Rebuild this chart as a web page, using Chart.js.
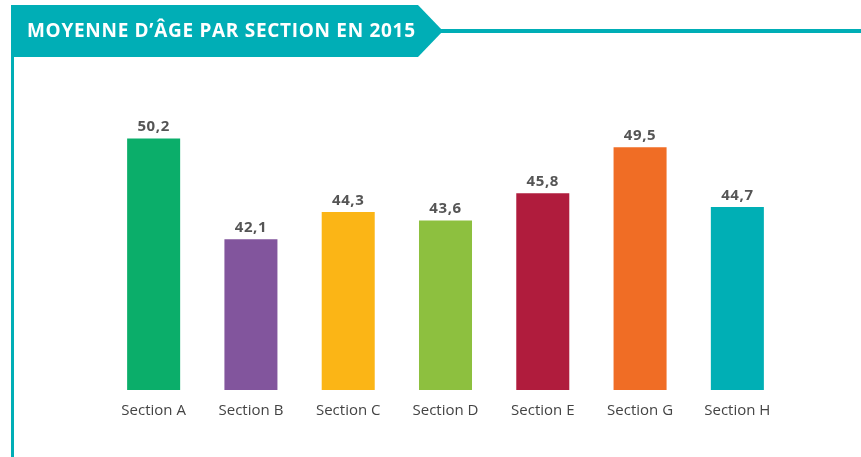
<!DOCTYPE html>
<html>
<head>
<meta charset="utf-8">
<script src="https://cdn.jsdelivr.net/npm/chart.js@4"></script>
<style>
  html, body { margin: 0; padding: 0; background: #fff; }
  #wrap { width: 861px; height: 457px; position: relative; }
</style>
</head>
<body>
<div id="wrap"><canvas id="myChart"></canvas></div>
<script>
var titleText = 'MOYENNE D’ÂGE PAR SECTION EN 2015';
var sections = ['Section A', 'Section B', 'Section C', 'Section D', 'Section E', 'Section G', 'Section H'];
var ages = [50.2, 42.1, 44.3, 43.6, 45.8, 49.5, 44.7];
var barColors = ['#0bae6a', '#82559d', '#fbb516', '#8dc03f', '#b01c3d', '#f06d25', '#00afb5'];

var teal = '#00aeb6';

// banner + frame lines
var bannerPlugin = {
    id: 'banner',
    beforeDraw: function (chart) {
        var c = chart.ctx;
        c.save();
        c.fillStyle = teal;
        // left vertical line
        c.fillRect(11, 50, 3, 407);
        // horizontal line to the right
        c.fillRect(430, 29, 431, 4);
        // arrow banner
        c.beginPath();
        c.moveTo(11, 5);
        c.lineTo(418, 5);
        c.lineTo(443, 31);
        c.lineTo(418, 57);
        c.lineTo(11, 57);
        c.closePath();
        c.fill();
        c.fillStyle = '#ffffff';
        c.font = 'bold 19px "Open Sans"';
        c.letterSpacing = '0.7px';
        c.textBaseline = 'middle';
        c.fillText(titleText, 27, 32);
        c.restore();
    }
};

// value labels above the bars
var valuePlugin = {
    id: 'values',
    afterDatasetsDraw: function (chart) {
        var c = chart.ctx;
        var meta = chart.getDatasetMeta(0);
        c.save();
        c.fillStyle = '#555555';
        c.font = 'bold 15px "Open Sans"';
        c.letterSpacing = '0.6px';
        c.textAlign = 'center';
        c.textBaseline = 'bottom';
        meta.data.forEach(function (bar, i) {
            c.fillText(ages[i].toFixed(1).replace('.', ','), bar.x, bar.y - 4);
        });
        c.restore();
    }
};

var ctx = document.getElementById('myChart').getContext('2d');
var myChart = new Chart(ctx, {
    type: 'bar',
    data: {
        labels: sections,
        datasets: [{
            data: ages,
            backgroundColor: barColors,
            borderWidth: 0,
            barPercentage: 0.545,
            categoryPercentage: 1
        }]
    },
    options: {
        responsive: true,
        maintainAspectRatio: false,
        animation: false,
        layout: {
            padding: { left: 105, right: 75, top: 116, bottom: 33 }
        },
        plugins: {
            legend: { display: false },
            tooltip: { enabled: false }
        },
        scales: {
            x: {
                grid: { display: false },
                border: { display: false },
                ticks: {
                    color: '#444444',
                    font: { family: 'Open Sans', size: 15 },
                    padding: 4
                }
            },
            y: {
                display: false,
                min: 30,
                max: 52
            }
        }
    },
    plugins: [bannerPlugin, valuePlugin]
});
</script>
</body>
</html>
